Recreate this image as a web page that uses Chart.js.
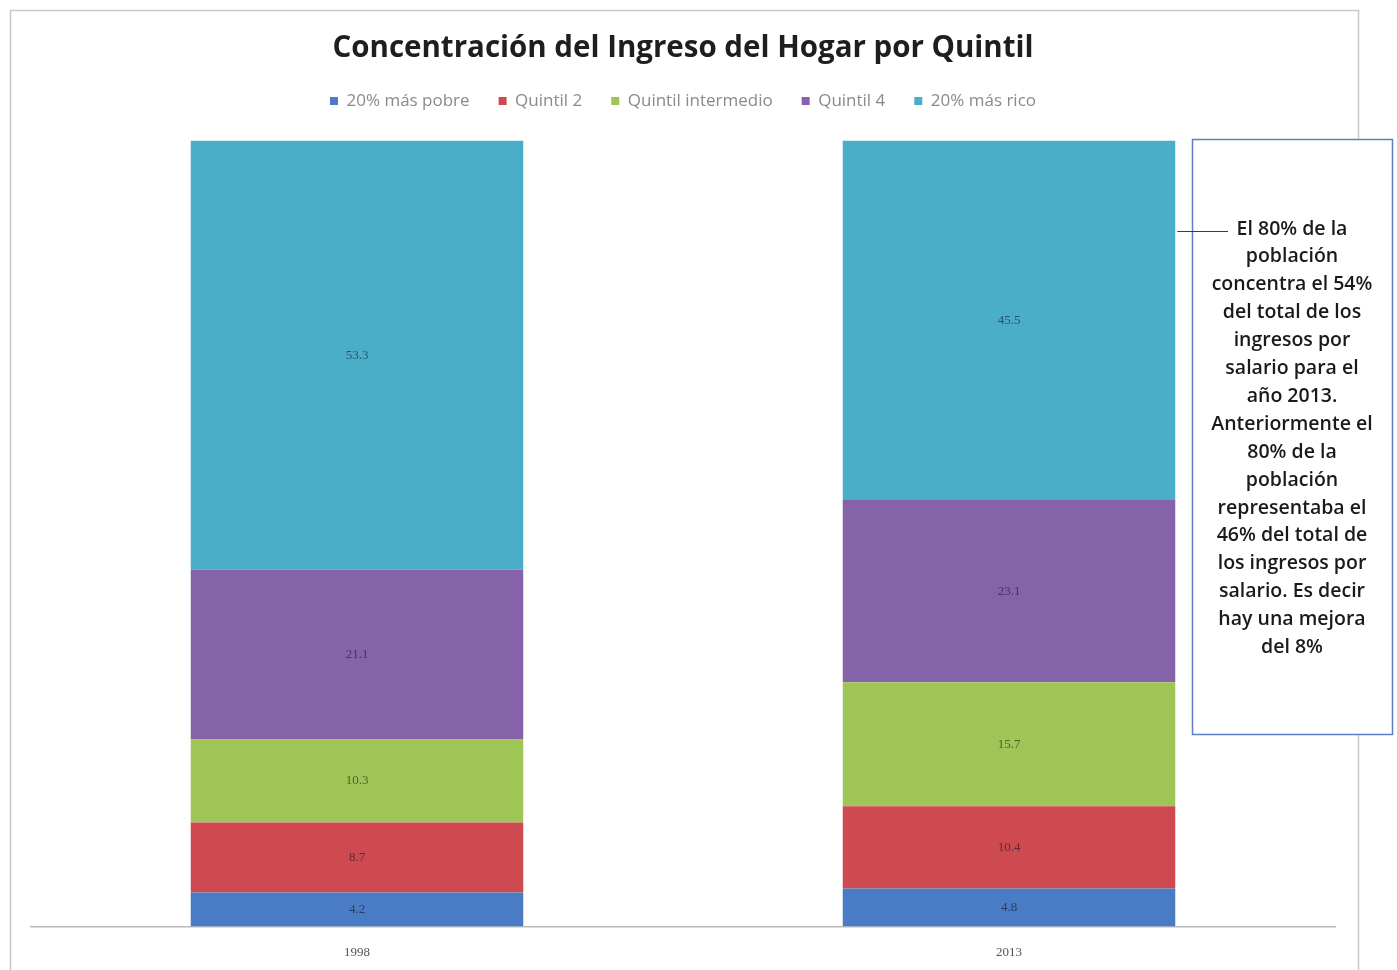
<!DOCTYPE html>
<html>
<head>
<meta charset="utf-8">
<script src="https://cdn.jsdelivr.net/npm/chart.js@4"></script>
<style>
  body { margin: 0; background: #fff; }
  #wrap { position: relative; width: 1397px; height: 970px; }
</style>
</head>
<body>
<div id="wrap"><canvas id="chart" width="1397" height="970"></canvas></div>
<script>
const years = ["1998", "2013"];
const seriesNames = ["20% más pobre", "Quintil 2", "Quintil intermedio", "Quintil 4", "20% más rico"];
const pobre = [4.2, 4.8];
const quintil2 = [8.7, 10.4];
const intermedio = [10.3, 15.7];
const quintil4 = [21.1, 23.1];
const rico = [53.3, 45.5];
const colors = ["#4a7cc6", "#cf4a50", "#9fc556", "#8663a8", "#4aaec8"];
const noteLines = [
    "El 80% de la", "población", "concentra el 54%", "del total de los",
    "ingresos por", "salario para el", "año 2013.", "Anteriormente el",
    "80% de la", "población", "representaba el", "46% del total de",
    "los ingresos por", "salario. Es decir", "hay una mejora", "del 8%"
];

const raw = [pobre, quintil2, intermedio, quintil4, rico];
// 100% stacked: share of each bar's total
const totals = years.map((_, i) => raw.reduce((s, arr) => s + arr[i], 0));

const datasets = raw.map((arr, k) => ({
    label: seriesNames[k],
    data: arr.map((v, i) => v * 100 / totals[i]),
    raw: arr,
    backgroundColor: colors[k],
    borderWidth: 0,
    barPercentage: 0.51,
    categoryPercentage: 1
}));

const framePlugin = {
    id: 'frame',
    afterInit(chart) {
        // leave some room between legend and the bars
        const lg = chart.legend;
        const fit = lg.fit.bind(lg);
        lg.fit = function () { fit(); this.height += 21; };
    },
    beforeDraw(chart) {
        const c = chart.ctx;
        c.save();
        c.fillStyle = '#fff';
        c.fillRect(0, 0, chart.width, chart.height);
        c.strokeStyle = '#c8c8c8';
        c.lineWidth = 1.5;
        c.strokeRect(10.5, 10.5, 1348, 970);
        c.restore();
    }
};

const labelsPlugin = {
    id: 'barLabels',
    afterDatasetsDraw(chart) {
        const c = chart.ctx;
        c.save();
        c.font = '13px "Liberation Serif"';
        c.textAlign = 'center';
        c.textBaseline = 'middle';
        c.fillStyle = 'rgba(20,20,40,0.6)';
        chart.data.datasets.forEach((ds, k) => {
            chart.getDatasetMeta(k).data.forEach((bar, i) => {
                const y = (bar.y + bar.base) / 2;
                c.fillText(ds.raw[i].toFixed(1), bar.x, y);
            });
        });
        c.restore();
    }
};

const notePlugin = {
    id: 'note',
    afterDraw(chart) {
        const c = chart.ctx;
        const meta = chart.getDatasetMeta(4).data[1];
        const right = meta.x + meta.width / 2;
        c.save();
        c.fillStyle = '#fff';
        c.fillRect(1192, 139, 201, 596);
        c.strokeStyle = '#5b7fc4';
        c.lineWidth = 1.5;
        c.strokeRect(1192.5, 139.5, 200, 595);
        c.beginPath();
        c.moveTo(right + 2, 231.5);
        c.lineTo(1228, 231.5);
        c.strokeStyle = '#3a3a3a';
        c.lineWidth = 1;
        c.stroke();
        c.fillStyle = '#1a1a1a';
        c.font = '600 19.5px "Open Sans"';
        c.textAlign = 'center';
        c.textBaseline = 'middle';
        noteLines.forEach((t, i) => c.fillText(t, 1292, 229 + i * 27.9));
        c.restore();
    }
};

new Chart(document.getElementById('chart'), {
    type: 'bar',
    data: { labels: years, datasets },
    plugins: [framePlugin, labelsPlugin, notePlugin],
    options: {
        responsive: false,
        animation: false,
        layout: { padding: { left: 31, right: 62, top: 0, bottom: 0 } },
        plugins: {
            title: {
                display: true,
                text: 'Concentración del Ingreso del Hogar por Quintil',
                color: '#1e1e1e',
                font: { family: '"Open Sans"', size: 29.5, weight: 'bold', lineHeight: 1 },
                padding: { top: 34, bottom: 0 }
            },
            legend: {
                display: true,
                labels: {
                    color: '#8a8a8a',
                    font: { family: '"Open Sans"', size: 17 },
                    boxWidth: 8,
                    boxHeight: 8,
                    padding: 29
                }
            },
            tooltip: { enabled: false }
        },
        scales: {
            x: {
                stacked: true,
                grid: { display: false },
                border: { color: '#bbb', width: 1.5 },
                ticks: { color: '#555', font: { family: '"Liberation Serif"', size: 13 }, padding: 10 }
            },
            y: {
                stacked: true,
                display: false,
                min: 0,
                max: 100
            }
        }
    }
});
</script>
</body>
</html>
